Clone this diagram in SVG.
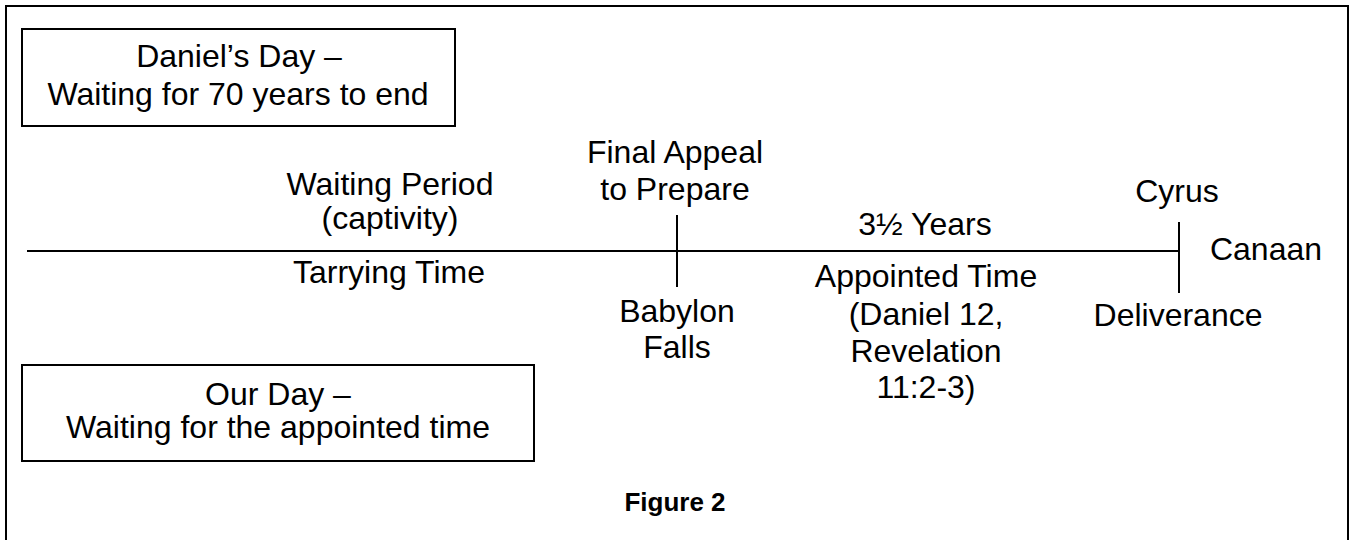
<svg xmlns="http://www.w3.org/2000/svg" width="1351" height="540" viewBox="0 0 1351 540">
<style>
.t{font-family:"Liberation Sans",Arial,sans-serif;font-size:32px;fill:#000;text-anchor:middle}
.b{fill:#fff;stroke:#000;stroke-width:2}
.ln{stroke:#000;stroke-width:2;fill:none}
.cap{font-family:"Liberation Sans",Arial,sans-serif;font-size:26px;font-weight:bold;fill:#000;text-anchor:middle}
</style>
<rect x="0" y="0" width="1351" height="540" fill="#fff"/>
<rect id="frame" x="6" y="6" width="1342" height="560" class="b"/>
<g id="connectors">
<line class="ln" x1="27" y1="251" x2="1179" y2="251"/>
<line class="ln" x1="677" y1="215" x2="677" y2="287"/>
<line class="ln" x1="1179" y1="222" x2="1179" y2="293"/>
</g>
<g id="daniel-box">
<rect x="22" y="29" width="433" height="97" class="b"/>
<text class="t" x="239" y="67">Daniel’s Day –</text>
<text class="t" x="238" y="105">Waiting for 70 years to end</text>
</g>
<g id="our-day-box">
<rect x="22" y="365" width="512" height="96" class="b"/>
<text class="t" x="278" y="405">Our Day –</text>
<text class="t" x="278" y="438">Waiting for the appointed time</text>
</g>
<g id="waiting-period">
<text class="t" x="390" y="195">Waiting Period</text>
<text class="t" x="390" y="229">(captivity)</text>
</g>
<g id="tarrying-time">
<text class="t" x="389" y="283">Tarrying Time</text>
</g>
<g id="final-appeal">
<text class="t" x="675" y="163">Final Appeal</text>
<text class="t" x="675" y="200">to Prepare</text>
</g>
<g id="babylon-falls">
<text class="t" x="677" y="322">Babylon</text>
<text class="t" x="677" y="358">Falls</text>
</g>
<g id="three-half-years">
<text class="t" x="925" y="235">3½ Years</text>
</g>
<g id="appointed-time">
<text class="t" x="926" y="287">Appointed Time</text>
<text class="t" x="926" y="325">(Daniel 12,</text>
<text class="t" x="926" y="362">Revelation</text>
<text class="t" x="926" y="398">11:2-3)</text>
</g>
<g id="cyrus">
<text class="t" x="1177" y="202">Cyrus</text>
</g>
<g id="canaan">
<text class="t" x="1266" y="260">Canaan</text>
</g>
<g id="deliverance">
<text class="t" x="1178" y="326">Deliverance</text>
</g>
<g id="caption">
<text class="cap" x="675" y="511">Figure 2</text>
</g>
</svg>
